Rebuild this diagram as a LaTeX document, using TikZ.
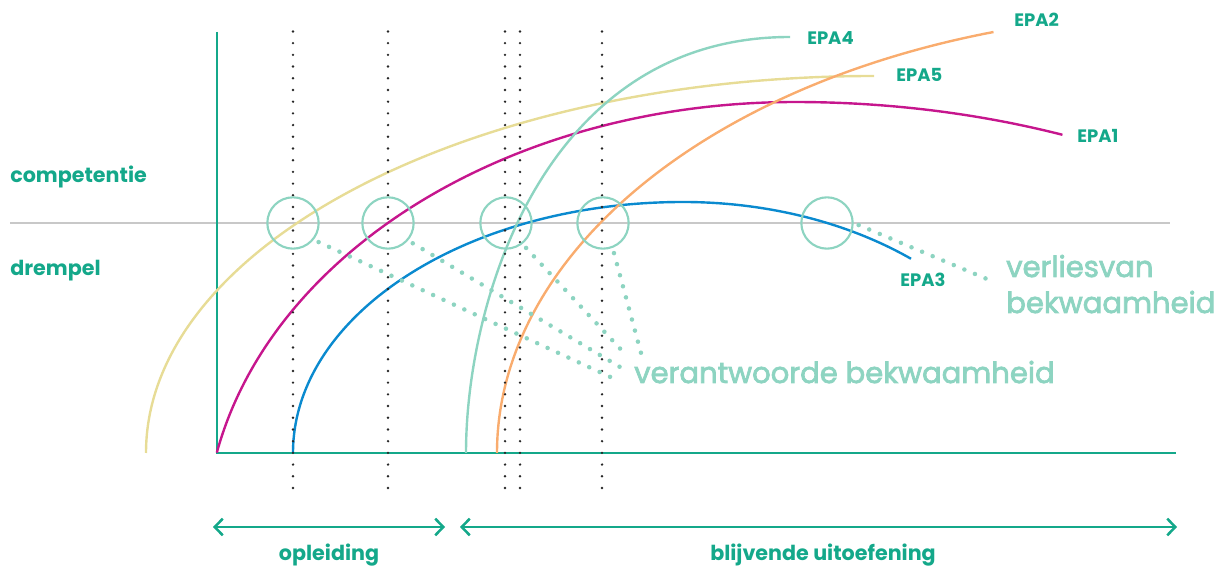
\documentclass[tikz,border=0pt]{standalone}
\usepackage{fontspec}
\setmainfont{Poppins}
\newfontfamily\mediumfont{Poppins}[FakeBold=2.5]
\usetikzlibrary{arrows.meta}

\definecolor{epateal}{RGB}{20,168,138}
\definecolor{softteal}{RGB}{141,212,193}
\definecolor{epamagenta}{RGB}{198,22,141}
\definecolor{epablue}{RGB}{10,138,207}
\definecolor{epaorange}{RGB}{249,172,110}
\definecolor{epayellow}{RGB}{231,220,150}
\definecolor{thresholdgray}{RGB}{200,200,200}

\begin{document}
\begin{tikzpicture}[x=0.75pt, y=0.75pt,
  curve/.style={line width=1.8pt},
  axisline/.style={draw=epateal, line width=1.9pt},
  guide/.style={draw=black!85, line width=2pt, line cap=round, dash pattern=on 0pt off 8.78pt},
  ring/.style={circle, draw=softteal, line width=1.6pt, minimum size=38.5pt, inner sep=0pt},
  dotline/.style={draw=softteal, line width=3.4pt, line cap=round, dash pattern=on 0pt off 8.6pt, shorten <=4pt},
  epa/.style={text=epateal, font=\bfseries\fontsize{13.5}{16}\selectfont, inner sep=0pt, anchor=base west},
  sidelabel/.style={text=epateal, font=\bfseries\fontsize{15.5}{18}\selectfont, inner sep=0pt},
  bigtext/.style={text=softteal, font=\mediumfont\fontsize{21.8}{27}\selectfont, inner sep=0pt, anchor=base west},
  span/.style={draw=epateal, line width=1.9pt, >={Straight Barb[length=6pt,width=12.5pt]}, <->}
]
\useasboundingbox (0,0) rectangle (1216,566);

% threshold line
\draw[draw=thresholdgray, line width=1.3pt] (10,343) -- (1170,343);

% axes
\draw[axisline] (217,534) -- (217,113) -- (1176,113);

% competence curves
\draw[curve, draw=epayellow] (146,113) arc[start angle=180, end angle=90, x radius=728, y radius=377];
\draw[curve, draw=epamagenta] (216.8,113.3) arc[start angle=168.5, end angle=90, x radius=590, y radius=438]
  arc[start angle=90, end angle=67.7, x radius=705, y radius=438];
\draw[curve, draw=epablue] (293,113) arc[start angle=180, end angle=90, x radius=390, y radius=251]
  arc[start angle=90, end angle=50.7, x radius=360, y radius=251];
\draw[curve, draw=softteal] (466,113) .. controls (466,266) and (545,529) .. (790,529);
\draw[curve, draw=epaorange] (497,113) arc[start angle=180, end angle=106.9, x radius=700, y radius=440];

% moments of assessment
\foreach \gx in {293,388,505,520,602}
  \draw[guide] (\gx,78) -- (\gx,536);

% crossings of the threshold
\node[ring] (c1) at (293,343) {};
\node[ring] (c2) at (388,343) {};
\node[ring] (c3) at (506,343) {};
\node[ring] (c4) at (603,343) {};
\node[ring] (c5) at (827,343) {};

% labels
\node[epa] (epa4) at (807,521) {EPA4};
\node[epa] (epa2) at (1014,539) {EPA2};
\node[epa] (epa5) at (896,484) {EPA5};
\node[epa] (epa1) at (1077,423) {EPA1};
\node[epa] (epa3) at (900,279) {EPA3};

\node[sidelabel, anchor=base west] (comp) at (10,383) {competentie};
\node[sidelabel, anchor=base west] (drem) at (10,290) {drempel};

\node[bigtext] (vb) at (634,183) {verantwoorde bekwaamheid};
\node[bigtext] (lv1) at (1006,289) {verliesvan};
\node[bigtext] (lv2) at (1006,253) {bekwaamheid};

% pointers to the labels
\coordinate (e1) at (619,185);
\coordinate (e2) at (620,199);
\coordinate (e3) at (627,210);
\coordinate (e4) at (641,213);
\coordinate (e5) at (994,284);
\draw[dotline] (c1.-39) -- (e1);
\draw[dotline] (c2.-41) -- (e2);
\draw[dotline] (c3.-52) -- (e3);
\draw[dotline] (c4.-69) -- (e4);
\draw[dotline] (c5.0) -- (e5);

% phases
\coordinate (a1) at (213,39);
\coordinate (a2) at (445,39);
\coordinate (b1) at (460,39);
\coordinate (b2) at (1177,39);
\draw[span] (a1) -- (a2);
\draw[span] (b1) -- (b2);
\node[sidelabel, anchor=base] (opl) at (329,5) {opleiding};
\node[sidelabel, anchor=base] (bu) at (823,5) {blijvende uitoefening};
\end{tikzpicture}
\end{document}
